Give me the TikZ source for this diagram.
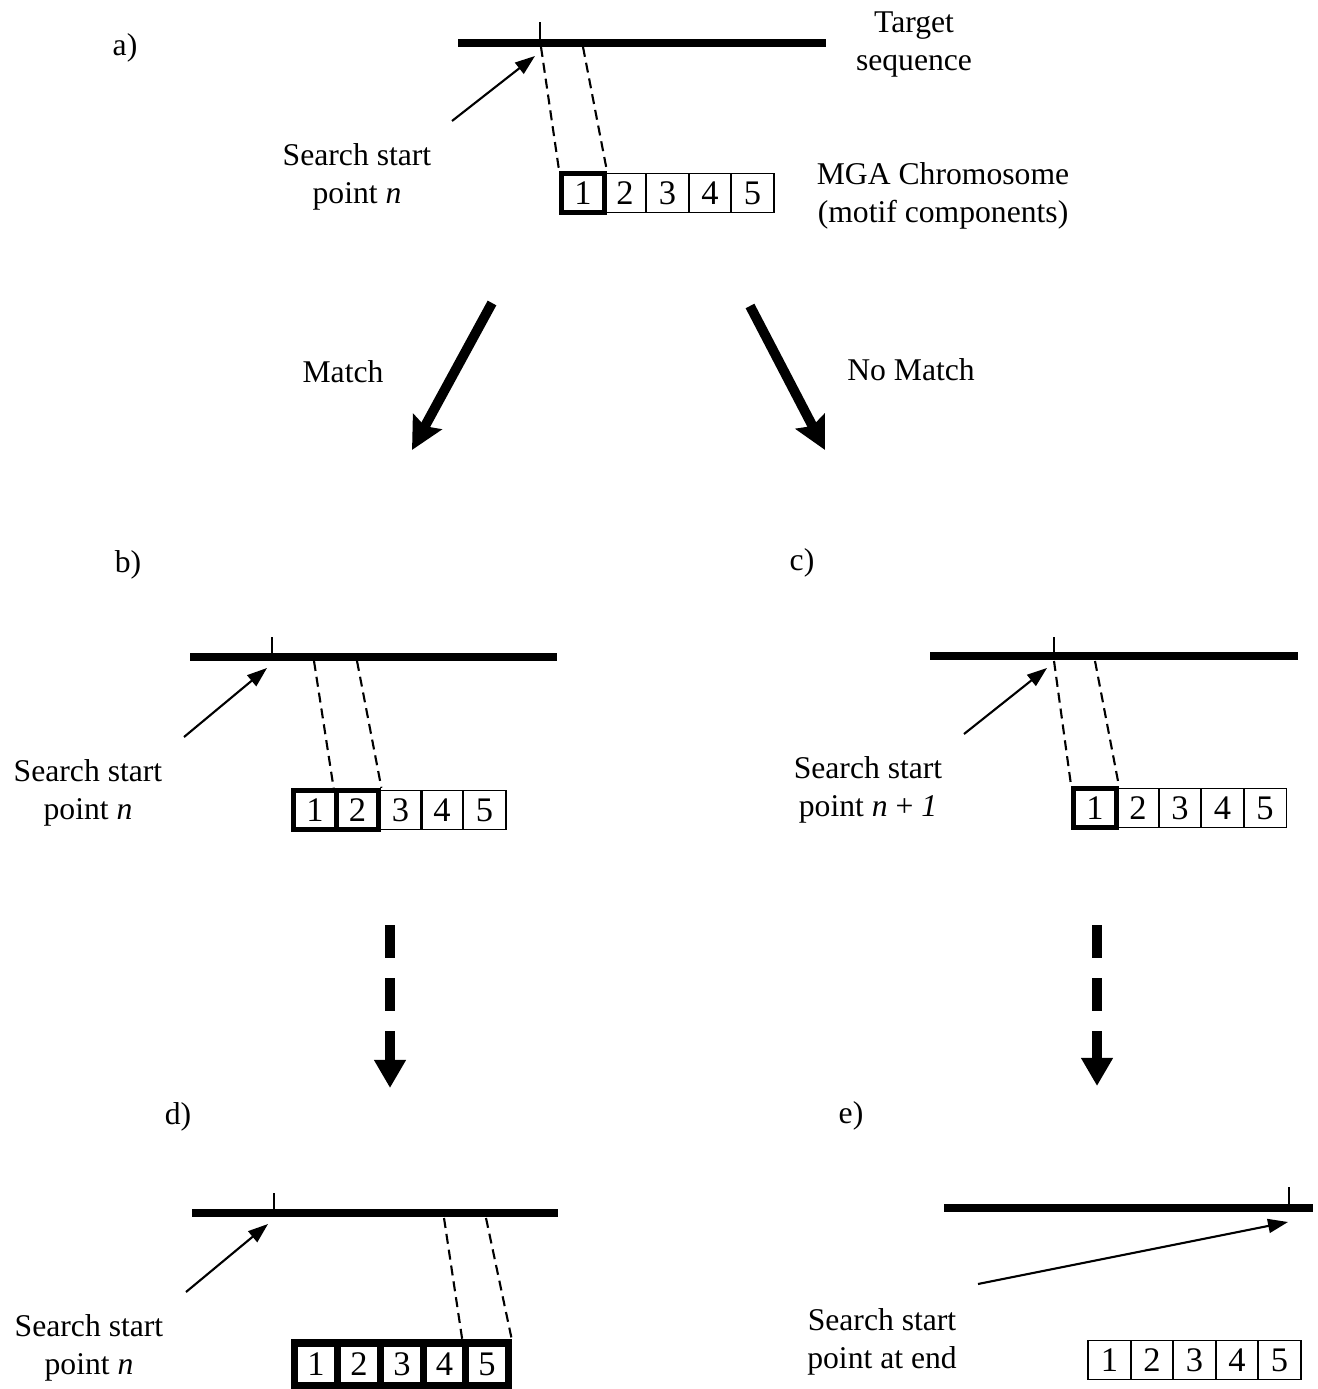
\documentclass[tikz,border=0pt]{standalone}
\usepackage{fontspec}
\setmainfont{Liberation Serif}
\usetikzlibrary{arrows.meta}
\begin{document}
\begin{tikzpicture}[x=0.01cm,y=-0.01cm,
  lbl/.style={align=center,inner sep=0pt,yshift=-0.03cm,font=\fontsize{9}{10.8}\selectfont},
  seqline/.style={line width=2pt},
  tickline/.style={line width=0.6pt},
  cell/.style={draw,line width=0.45pt,minimum width=0.425cm,minimum height=0.39cm,inner sep=0pt,font=\fontsize{9.8}{10.8}\selectfont},
  boldcell/.style={cell,line width=1.5pt},
  heavycell/.style={cell,line width=2pt,minimum height=0.42cm},
  guide/.style={dashed,line width=0.6pt,dash pattern=on 0.1cm off 0.06cm},
  pointer/.style={line width=0.6pt,-{Triangle[length=0.2cm,width=0.14cm]}},
  branch/.style={line width=2.8pt,-{Stealth[length=0.32cm,width=0.32cm,inset=0.05cm]}},
  stepdown/.style={line width=2.8pt,dash pattern=on 0.33cm off 0.2cm,-{Triangle[length=0.28cm,width=0.3cm]}}]
\useasboundingbox (0,0) rectangle (1317,1389);

% ---------- a) ----------
\node[lbl] (la) at (125,45) {a)};
\coordinate (aL) at (458,43); \coordinate (aR) at (826,43);
\draw[seqline] (aL) -- (aR);
\coordinate (aT) at (540,43); \coordinate (aTt) at (540,22);
\draw[tickline] (aT) -- (aTt);
\node[lbl] (atgt) at (914,42) {Target\\sequence};
\node[lbl] (asp) at (357,174) {Search start\\point \textit{n}};
\coordinate (aFrom) at (452,121); \coordinate (aTo) at (535,56);
\draw[pointer] (aFrom) -- (aTo);
\node[boldcell] (a1) at (583,193) {1};
\node[cell] (a2) at (625,193) {2};
\node[cell] (a3) at (667.5,193) {3};
\node[cell] (a4) at (710,193) {4};
\node[cell] (a5) at (752.5,193) {5};
\node[lbl] (amga) at (943,193) {MGA Chromosome\\(motif components)};
\coordinate (aG1) at (541,47); \coordinate (aG2) at (583,47);
\draw[guide] (aG1) -- (a1.north west);
\draw[guide] (aG2) -- (a1.north east);

% ---------- branches ----------
\coordinate (mS) at (492,303); \coordinate (mE) at (412,450);
\draw[branch] (mS) -- (mE);
\node[lbl] (match) at (343,369) {Match};
\coordinate (nS) at (750,306); \coordinate (nE) at (825,450);
\draw[branch] (nS) -- (nE);
\node[lbl] (nomatch) at (911,367) {No Match};

% ---------- b) ----------
\node[lbl] (lb) at (128,562) {b)};
\coordinate (bL) at (190,657); \coordinate (bR) at (557,657);
\draw[seqline] (bL) -- (bR);
\coordinate (bT) at (272,657); \coordinate (bTt) at (272,637);
\draw[tickline] (bT) -- (bTt);
\coordinate (bFrom) at (184,737); \coordinate (bTo) at (267,668);
\draw[pointer] (bFrom) -- (bTo);
\node[lbl] (bsp) at (88,790) {Search start\\point \textit{n}};
\node[cell] (b3) at (400.5,810) {3};
\node[cell] (b4) at (442,810) {4};
\node[cell] (b5) at (484.5,810) {5};
\node[boldcell] (b1) at (315,810) {1};
\node[boldcell] (b2) at (357.5,810) {2};
\coordinate (bG1) at (314,661); \coordinate (bG2) at (357,661);
\draw[guide] (bG1) -- (b2.north west);
\draw[guide] (bG2) -- (b2.north east);

% ---------- c) ----------
\node[lbl] (lc) at (802,560) {c)};
\coordinate (cL) at (930,656); \coordinate (cR) at (1298,656);
\draw[seqline] (cL) -- (cR);
\coordinate (cT) at (1054,656); \coordinate (cTt) at (1054,637);
\draw[tickline] (cT) -- (cTt);
\coordinate (cFrom) at (964,734); \coordinate (cTo) at (1047,668);
\draw[pointer] (cFrom) -- (cTo);
\node[lbl] (csp) at (868,787) {Search start\\point \textit{n} + \textit{1}};
\node[cell] (c2) at (1138,808) {2};
\node[cell] (c3) at (1180,808) {3};
\node[cell] (c4) at (1222.5,808) {4};
\node[cell] (c5) at (1265,808) {5};
\node[boldcell] (c1) at (1095,808) {1};
\coordinate (cG1) at (1054,661); \coordinate (cG2) at (1095,661);
\draw[guide] (cG1) -- (c1.north west);
\draw[guide] (cG2) -- (c1.north east);

% ---------- steps to d) and e) ----------
\coordinate (sdS) at (390,925); \coordinate (sdE) at (390,1088);
\draw[stepdown] (sdS) -- (sdE);
\coordinate (seS) at (1097,925); \coordinate (seE) at (1097,1086);
\draw[stepdown] (seS) -- (seE);

% ---------- d) ----------
\node[lbl] (ld) at (178,1114) {d)};
\coordinate (dL) at (192,1213); \coordinate (dR) at (558,1213);
\draw[seqline] (dL) -- (dR);
\coordinate (dT) at (274,1213); \coordinate (dTt) at (274,1193);
\draw[tickline] (dT) -- (dTt);
\coordinate (dFrom) at (186,1292); \coordinate (dTo) at (268,1224);
\draw[pointer] (dFrom) -- (dTo);
\node[lbl] (dsp) at (89,1345) {Search start\\point \textit{n}};
\node[heavycell] (d1) at (316,1364) {1};
\node[heavycell] (d2) at (359,1364) {2};
\node[heavycell] (d3) at (402,1364) {3};
\node[heavycell] (d4) at (444.5,1364) {4};
\node[heavycell] (d5) at (487,1364) {5};
\coordinate (dG1) at (444,1218); \coordinate (dG2) at (486,1218);
\draw[guide] (dG1) -- (d5.north west);
\draw[guide] (dG2) -- (d5.north east);

% ---------- e) ----------
\node[lbl] (le) at (851,1113) {e)};
\coordinate (eL) at (944,1208); \coordinate (eR) at (1313,1208);
\draw[seqline] (eL) -- (eR);
\coordinate (eT) at (1289,1208); \coordinate (eTt) at (1289,1187);
\draw[tickline] (eT) -- (eTt);
\coordinate (eFrom) at (978,1284); \coordinate (eTo) at (1288,1222);
\draw[pointer] (eFrom) -- (eTo);
\node[lbl] (esp) at (882,1339) {Search start\\point at end};
\node[cell] (e1) at (1109.5,1360) {1};
\node[cell] (e2) at (1152,1360) {2};
\node[cell] (e3) at (1194.5,1360) {3};
\node[cell] (e4) at (1237,1360) {4};
\node[cell] (e5) at (1279.5,1360) {5};
\end{tikzpicture}
\end{document}
